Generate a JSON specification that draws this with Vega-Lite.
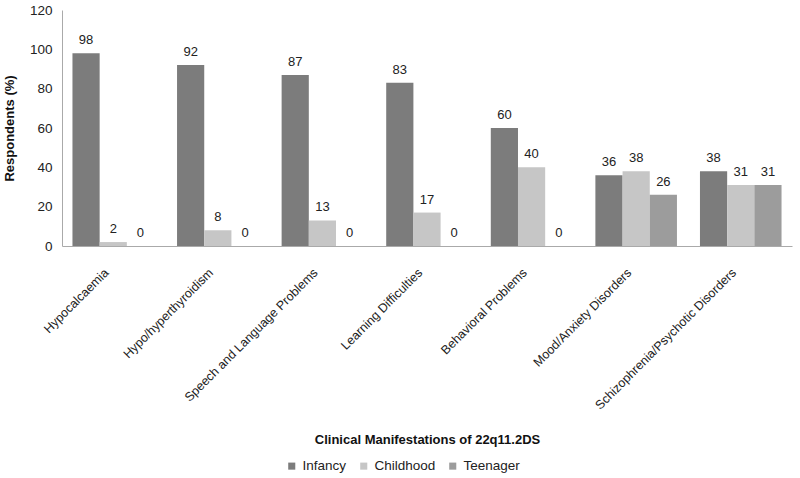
{
  "$schema": "https://vega.github.io/schema/vega-lite/v6.json",
  "width": 730,
  "height": 236,
  "autosize": {"type": "none"},
  "padding": {"left": 62, "top": 10, "right": 8, "bottom": 232},
  "background": "white",
  "config": {
    "view": {"stroke": null},
    "font": "Liberation Sans",
    "axis": {"labelFont": "Liberation Sans", "titleFont": "Liberation Sans", "labelColor": "#222", "titleColor": "#111", "domainColor": "#aaa", "grid": false, "ticks": false}
  },
  "data": {
    "values": [
      {"cat": "Hypocalcaemia", "series": "Infancy", "v": 98},
      {"cat": "Hypocalcaemia", "series": "Childhood", "v": 2},
      {"cat": "Hypocalcaemia", "series": "Teenager", "v": 0},
      {"cat": "Hypo/hyperthyroidism", "series": "Infancy", "v": 92},
      {"cat": "Hypo/hyperthyroidism", "series": "Childhood", "v": 8},
      {"cat": "Hypo/hyperthyroidism", "series": "Teenager", "v": 0},
      {"cat": "Speech and Language Problems", "series": "Infancy", "v": 87},
      {"cat": "Speech and Language Problems", "series": "Childhood", "v": 13},
      {"cat": "Speech and Language Problems", "series": "Teenager", "v": 0},
      {"cat": "Learning Difficulties", "series": "Infancy", "v": 83},
      {"cat": "Learning Difficulties", "series": "Childhood", "v": 17},
      {"cat": "Learning Difficulties", "series": "Teenager", "v": 0},
      {"cat": "Behavioral Problems", "series": "Infancy", "v": 60},
      {"cat": "Behavioral Problems", "series": "Childhood", "v": 40},
      {"cat": "Behavioral Problems", "series": "Teenager", "v": 0},
      {"cat": "Mood/Anxiety Disorders", "series": "Infancy", "v": 36},
      {"cat": "Mood/Anxiety Disorders", "series": "Childhood", "v": 38},
      {"cat": "Mood/Anxiety Disorders", "series": "Teenager", "v": 26},
      {"cat": "Schizophrenia/Psychotic Disorders", "series": "Infancy", "v": 38},
      {"cat": "Schizophrenia/Psychotic Disorders", "series": "Childhood", "v": 31},
      {"cat": "Schizophrenia/Psychotic Disorders", "series": "Teenager", "v": 31}
    ]
  },
  "encoding": {
    "x": {
      "field": "cat", "type": "nominal", "sort": null,
      "scale": {"paddingInner": 0.22, "paddingOuter": 0.1},
      "axis": {"title": "Clinical Manifestations of 22q11.2DS", "titleFontSize": 13, "titleFontWeight": "bold", "labelAngle": -45, "labelFontSize": 12.5, "labelPadding": 20, "labelOffset": -11, "titlePadding": 22, "labelLimit": 300}
    },
    "xOffset": {"field": "series", "type": "nominal", "sort": ["Infancy", "Childhood", "Teenager"], "scale": {"paddingInner": 0}},
    "y": {
      "field": "v", "type": "quantitative",
      "scale": {"domain": [0, 120]},
      "axis": {"title": "Respondents (%)", "titleFontSize": 13, "titleFontWeight": "bold", "values": [0, 20, 40, 60, 80, 100, 120], "labelFontSize": 13.5, "labelPadding": 10, "titlePadding": 13}
    }
  },
  "layer": [
    {
      "mark": {"type": "bar"},
      "encoding": {
        "color": {
          "field": "series", "type": "nominal", "sort": ["Infancy", "Childhood", "Teenager"],
          "scale": {"domain": ["Infancy", "Childhood", "Teenager"], "range": ["#7c7c7c", "#c6c6c6", "#9c9c9c"]},
          "legend": {"title": null, "orient": "none", "legendX": 223, "legendY": 449, "direction": "horizontal", "symbolType": "square", "symbolSize": 50, "symbolStrokeWidth": 0, "labelFontSize": 13.5, "labelColor": "#222", "columnPadding": 10, "labelOffset": 4}
        }
      }
    },
    {
      "mark": {"type": "text", "baseline": "bottom", "dy": -6, "fontSize": 13, "color": "#222"},
      "encoding": {"text": {"field": "v", "type": "quantitative"}}
    }
  ]
}
